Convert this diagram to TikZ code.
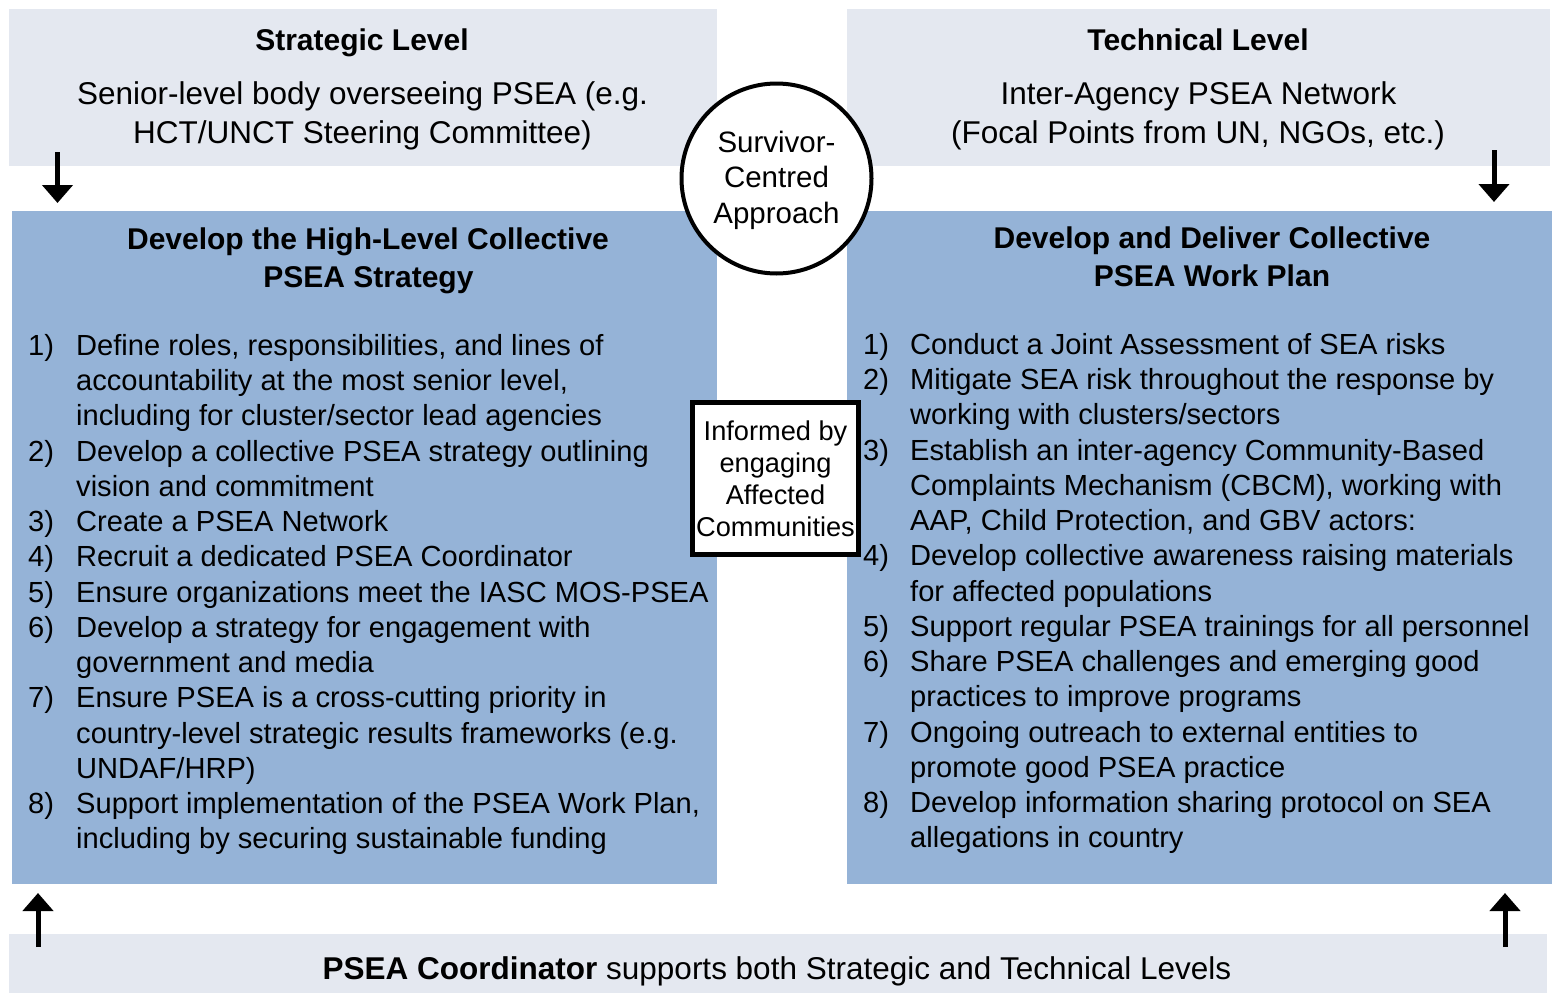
\documentclass[tikz,border=0pt]{standalone}
\usepackage{fontspec}
\setmainfont{Liberation Sans}
\usetikzlibrary{arrows.meta}
\definecolor{greybox}{RGB}{228,232,240}
\definecolor{bluebox}{RGB}{149,179,215}
\newcommand\bodysize{\fontsize{29.1pt}{35pt}\selectfont}
\newcommand\topsize{\fontsize{31.5pt}{39pt}\selectfont}
\newcommand\headsize{\fontsize{30pt}{38pt}\selectfont}
\begin{document}
\begin{tikzpicture}[x=1pt,y=-1pt,
  panel/.style={inner sep=0pt, outer sep=0pt, anchor=north west, draw=none},
  txt/.style={inner sep=0pt, anchor=base, font=\topsize},
  head/.style={inner sep=0pt, anchor=base, font=\headsize\bfseries},
  line/.style={inner sep=0pt, anchor=base west, font=\bodysize},
  upd/.style={line width=5pt, -{Triangle[width=30pt,length=18pt]}}
]
\useasboundingbox (0,0) rectangle (1556,993);
% panels
\node[panel, fill=greybox, minimum width=708pt, minimum height=157pt] (stratbox) at (9,9) {};
\node[panel, fill=greybox, minimum width=703pt, minimum height=157pt] (techbox) at (847,9) {};
\node[panel, fill=bluebox, minimum width=705pt, minimum height=673pt] (leftbox) at (12,211) {};
\node[panel, fill=bluebox, minimum width=705pt, minimum height=673pt] (rightbox) at (847,211) {};
\node[panel, fill=greybox, minimum width=1538pt, minimum height=59pt] (coordbox) at (9,934) {};
% top texts
\node[head] (strattitle) at (362,50) {Strategic Level};
\node[txt] (strat1) at (362.5,104) {Senior-level body overseeing PSEA (e.g.};
\node[txt] (strat2) at (362.5,143) {HCT/UNCT Steering Committee)};
\node[head] (techtitle) at (1198,50) {Technical Level};
\node[txt] (tech1) at (1198.5,104) {Inter-Agency PSEA Network};
\node[txt] (tech2) at (1198,143) {(Focal Points from UN, NGOs, etc.)};
% box titles
\node[head] (lt1) at (368,249) {Develop the High-Level Collective};
\node[head] (lt2) at (368.5,287) {PSEA Strategy};
\node[head] (rt1) at (1212,248) {Develop and Deliver Collective};
\node[head] (rt2) at (1212,286) {PSEA Work Plan};
% left list
\foreach \n/\t [count=\i from 0] in {
 {1)}/{Define roles, responsibilities, and lines of},
 {}/{accountability at the most senior level,},
 {}/{including for cluster/sector lead agencies},
 {2)}/{Develop a collective PSEA strategy outlining},
 {}/{vision and commitment},
 {3)}/{Create a PSEA Network},
 {4)}/{Recruit a dedicated PSEA Coordinator},
 {5)}/{Ensure organizations meet the IASC MOS-PSEA},
 {6)}/{Develop a strategy for engagement with},
 {}/{government and media},
 {7)}/{Ensure PSEA is a cross-cutting priority in},
 {}/{country-level strategic results frameworks (e.g.},
 {}/{UNDAF/HRP)},
 {8)}/{Support implementation of the PSEA Work Plan,},
 {}/{including by securing sustainable funding}}{
 \node[line] (ll\i) at (28,355.5+35.23*\i) {\makebox[48pt][l]{\n}\t};
}
% right list
\foreach \n/\t [count=\i from 0] in {
 {1)}/{Conduct a Joint Assessment of SEA risks},
 {2)}/{Mitigate SEA risk throughout the response by},
 {}/{working with clusters/sectors},
 {3)}/{Establish an inter-agency Community-Based},
 {}/{Complaints Mechanism (CBCM), working with},
 {}/{AAP, Child Protection, and GBV actors:},
 {4)}/{Develop collective awareness raising materials},
 {}/{for affected populations},
 {5)}/{Support regular PSEA trainings for all personnel},
 {6)}/{Share PSEA challenges and emerging good},
 {}/{practices to improve programs},
 {7)}/{Ongoing outreach to external entities to},
 {}/{promote good PSEA practice},
 {8)}/{Develop information sharing protocol on SEA},
 {}/{allegations in country}}{
 \node[line] (rl\i) at (863,354.5+35.23*\i) {\makebox[47pt][l]{\n}\t};
}
% centre shapes
\node[circle, draw, line width=4pt, fill=white, minimum size=190pt, inner sep=0pt, align=center,
      font=\fontsize{29.5pt}{35.5pt}\selectfont] (sca) at (776.5,178.5) {\rule{0pt}{25pt}Survivor-\\Centred\\Approach};
\node[rectangle, draw, line width=5pt, fill=white, minimum width=166pt, minimum height=152pt, inner sep=0pt, align=center,
      font=\fontsize{27.2pt}{32pt}\selectfont] (inf) at (775.5,478.5) {Informed by\\engaging\\Affected\\Communities};
% bottom text
\node[txt] (coordtxt) at (777,979) {\textbf{PSEA Coordinator} supports both Strategic and Technical Levels};
% arrows
\coordinate (a1s) at (57.5,152); \coordinate (a1e) at (57.5,203);
\coordinate (a2s) at (1494,150); \coordinate (a2e) at (1494,202);
\coordinate (a3s) at (38,947); \coordinate (a3e) at (38,893);
\coordinate (a4s) at (1505,947); \coordinate (a4e) at (1505,893);
\draw[upd] (a1s) -- (a1e);
\draw[upd] (a2s) -- (a2e);
\draw[upd] (a3s) -- (a3e);
\draw[upd] (a4s) -- (a4e);
\end{tikzpicture}
\end{document}
